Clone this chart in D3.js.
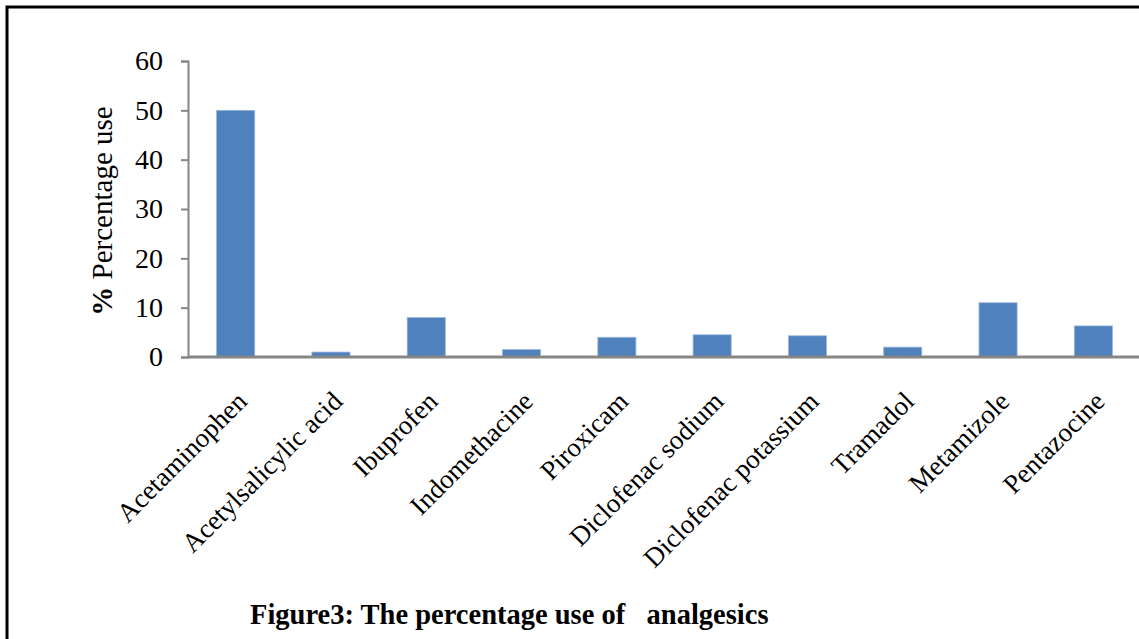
<!DOCTYPE html>
<html>
<head>
  <meta charset="utf-8">
  <title>Analgesics</title>
  <script src="https://d3js.org/d3.v7.min.js"></script>
  <style>
    body { margin: 0; background: #fff; }
    text { font-family: "Liberation Serif", "Times New Roman", serif; }
  </style>
</head>
<body>
  <script>
    // data
    var drugs = ["Acetaminophen", "Acetylsalicylic acid", "Ibuprofen", "Indomethacine", "Piroxicam",
      "Diclofenac sodium", "Diclofenac potassium", "Tramadol", "Metamizole", "Pentazocine"];
    var percentUse = [50, 1, 8, 1.5, 4, 4.5, 4.3, 2, 11, 6.3];
    var yTicks = [0, 10, 20, 30, 40, 50, 60];

    var width = 1139, height = 639;
    var plotLeft = 188, plotRight = 1141, plotTop = 61, plotBottom = 357;

    var svg = d3.select("body").append("svg").attr("width", width).attr("height", height);

    // page frame (left and top edges only)
    svg.append("path")
      .attr("d", "M7," + height + "V7H" + width)
      .attr("fill", "none").attr("stroke", "#000").attr("stroke-width", 3);

    var x = d3.scaleBand().domain(drugs).range([plotLeft, plotRight]).paddingInner(0.6).paddingOuter(0.3);
    var y = d3.scaleLinear().domain([0, 60]).range([plotBottom, plotTop]);

    // y axis
    var yAxis = svg.append("g")
      .attr("transform", "translate(" + plotLeft + ",0)")
      .call(d3.axisLeft(y).tickValues(yTicks).tickSize(7).tickPadding(18));
    yAxis.select(".domain").attr("stroke", "#868686").attr("stroke-width", 2);
    yAxis.selectAll(".tick line").attr("stroke", "#868686").attr("stroke-width", 2);
    yAxis.selectAll(".tick text")
      .attr("fill", "#000")
      .style("font-family", "Liberation Serif")
      .style("font-size", "28px");

    // bars
    svg.append("g")
      .selectAll("rect")
      .data(percentUse)
      .enter()
      .append("rect")
      .attr("x", (d, i) => x(drugs[i]))
      .attr("y", d => y(d))
      .attr("width", x.bandwidth())
      .attr("height", d => y(0) - y(d))
      .attr("fill", "#4F81BD")
      .attr("stroke", "#9bb7dc")
      .attr("stroke-width", 0.8);

    // x axis line
    svg.append("line")
      .attr("x1", plotLeft).attr("x2", plotRight)
      .attr("y1", y(0)).attr("y2", y(0))
      .attr("stroke", "#868686").attr("stroke-width", 3);

    // category labels
    svg.append("g")
      .selectAll("text")
      .data(drugs)
      .enter()
      .append("text")
      .attr("transform", d => "translate(" + (x(d) + x.bandwidth() / 2 + 13) + ",403) rotate(-45)")
      .attr("text-anchor", "end")
      .style("font-size", "27px")
      .text(d => d);

    // y label
    var yl = svg.append("text")
      .attr("transform", "translate(112,211) rotate(-90)")
      .attr("text-anchor", "middle")
      .style("font-size", "29px");
    yl.append("tspan").attr("font-weight", "bold").text("%");
    yl.append("tspan").text("  Percentage use");

    // caption
    svg.append("text")
      .attr("x", 250).attr("y", 624)
      .style("font-size", "28.5px")
      .attr("font-weight", "bold")
      .attr("xml:space", "preserve")
      .text("Figure3: The percentage use of   analgesics");
  </script>
</body>
</html>
